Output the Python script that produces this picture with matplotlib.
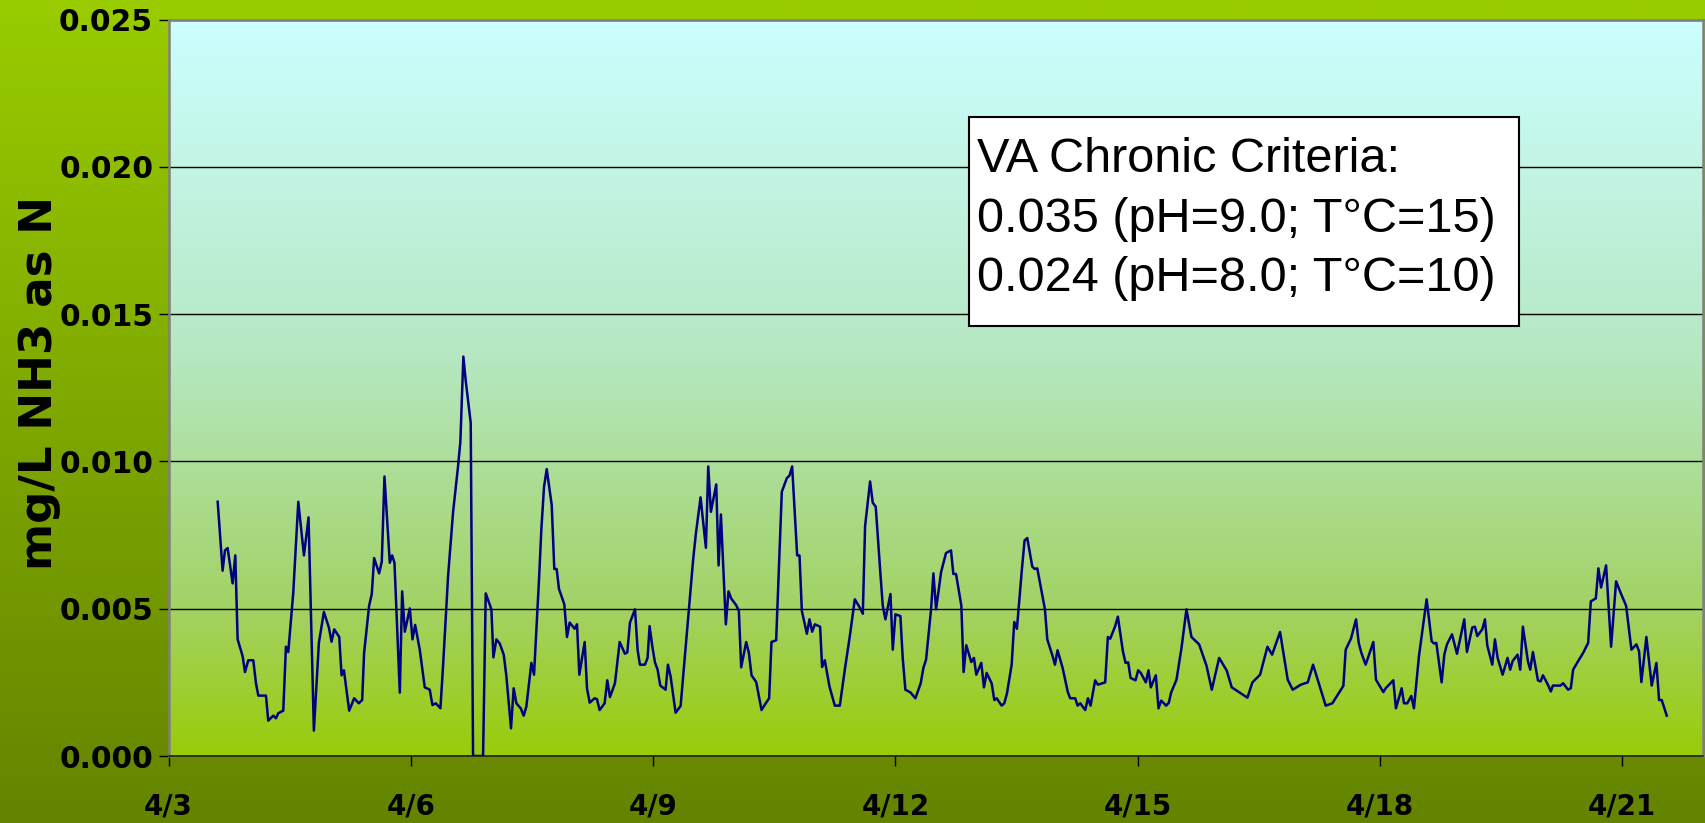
import numpy as np
import matplotlib
matplotlib.use("Agg")
import matplotlib.pyplot as plt
import matplotlib.dates as mdates
from matplotlib.patches import Rectangle
from matplotlib.ticker import FuncFormatter, FixedLocator
from matplotlib.font_manager import FontProperties
import datetime as dt

# ---------------- data ----------------
start_date = dt.datetime(2008, 4, 3)
# time of each sample, in days after 4/3 00:00
day_offset = [
    0.609, 0.670, 0.699, 0.732, 0.794, 0.827, 0.856, 0.918, 0.947, 0.988,
    1.050, 1.083, 1.112, 1.207, 1.235, 1.297, 1.330, 1.359, 1.421, 1.454,
    1.483, 1.545, 1.607, 1.677, 1.734, 1.800, 1.862, 1.924, 1.986, 2.019,
    2.052, 2.114, 2.143, 2.172, 2.237,
    2.299, 2.356, 2.398, 2.422, 2.484, 2.517, 2.546, 2.608, 2.641, 2.674,
    2.740, 2.769, 2.798, 2.864, 2.893, 2.926, 2.988, 3.021, 3.054, 3.111,
    3.173, 3.235, 3.268, 3.309, 3.367, 3.400, 3.462, 3.524, 3.585, 3.614,
    3.651, 3.680, 3.742, 3.771, 3.895, 3.928, 3.998, 4.023, 4.060,
    4.101, 4.151, 4.184, 4.241, 4.274, 4.307, 4.361, 4.398, 4.431, 4.493,
    4.526, 4.555, 4.588, 4.617, 4.650, 4.683, 4.745, 4.777, 4.806, 4.835,
    4.901, 4.934, 4.967, 5.029, 5.058, 5.087, 5.153, 5.182, 5.215, 5.276,
    5.305, 5.338, 5.400, 5.433, 5.466, 5.528, 5.586, 5.652, 5.681, 5.714,
    5.776, 5.809, 5.837, 5.899, 5.932,
    5.957, 5.990, 6.023, 6.056, 6.089, 6.155, 6.184, 6.217, 6.279, 6.341,
    6.369, 6.435, 6.497, 6.530, 6.588, 6.654, 6.683, 6.716, 6.782, 6.811,
    6.840, 6.901, 6.934, 6.967, 7.029, 7.062, 7.091, 7.153, 7.186, 7.219,
    7.277, 7.343, 7.376, 7.437, 7.466, 7.524, 7.594, 7.656, 7.689, 7.722,
    7.784,
    7.813, 7.842, 7.904, 7.937, 7.970, 8.003, 8.068, 8.093, 8.126, 8.184,
    8.250, 8.312, 8.374, 8.436, 8.498, 8.559, 8.597, 8.625, 8.687, 8.720,
    8.757, 8.815, 8.844, 8.877, 8.939, 8.968, 9.001, 9.062, 9.091, 9.124,
    9.186, 9.248, 9.314, 9.347, 9.380, 9.442, 9.471, 9.504, 9.566, 9.627,
    9.689, 9.718, 9.751, 9.817, 9.845, 9.878, 9.940, 9.973, 10.002, 10.064,
    10.097, 10.130, 10.192, 10.225, 10.254, 10.316, 10.349, 10.382, 10.440, 10.472,
    10.505, 10.567, 10.600, 10.633, 10.695, 10.724, 10.757, 10.852, 10.881, 10.947,
    10.976, 11.008, 11.071, 11.136, 11.165, 11.227, 11.256, 11.289, 11.351, 11.384,
    11.417, 11.474, 11.507,
    11.598, 11.631, 11.660, 11.722, 11.755, 11.817, 11.850, 11.883, 11.912, 11.974,
    12.006, 12.039, 12.101, 12.134, 12.163, 12.225, 12.258, 12.291, 12.353, 12.386,
    12.415, 12.481, 12.543, 12.604, 12.666, 12.761, 12.852, 12.918, 13.009, 13.103,
    13.165, 13.359,
    13.421, 13.516, 13.607, 13.665, 13.763, 13.858, 13.920, 14.019, 14.106, 14.172,
    14.328, 14.411, 14.547, 14.576, 14.642, 14.704, 14.737, 14.770, 14.823, 14.918,
    14.951, 15.042, 15.071, 15.165, 15.198,
    15.269, 15.298, 15.339, 15.388, 15.421, 15.483, 15.578, 15.640, 15.669, 15.698,
    15.764, 15.797, 15.830, 15.892, 15.954, 16.044, 16.077, 16.143, 16.176, 16.205,
    16.267, 16.300, 16.329, 16.391, 16.424, 16.457, 16.519, 16.580, 16.613, 16.642,
    16.704, 16.737, 16.770, 16.832, 16.861, 16.894, 16.956, 16.989, 17.018, 17.080,
    17.116, 17.141, 17.235, 17.268, 17.330, 17.363, 17.392, 17.454, 17.516, 17.578,
    17.611, 17.673, 17.705, 17.738, 17.800, 17.862, 17.924, 17.986, 18.048, 18.114,
    18.175, 18.208, 18.237, 18.299, 18.365, 18.423, 18.456, 18.489, 18.551,
]
# NH3 as N, in micrograms per litre (thousandths of mg/L)
nh3_ug_per_L = [
    8.63, 6.29, 6.98, 7.06, 5.86, 6.81, 3.96, 3.39, 2.85, 3.25,
    3.25, 2.47, 2.05, 2.05, 1.20, 1.37, 1.28, 1.45, 1.54, 3.71,
    3.53, 5.55, 8.63, 6.81, 8.10, 0.86, 3.84, 4.89, 4.36, 3.88,
    4.30, 4.04, 2.74, 2.91, 1.54,
    1.96, 1.79, 1.90, 3.50, 5.10, 5.50, 6.72, 6.20, 6.60, 9.49,
    6.56, 6.81, 6.56, 2.15, 5.59, 4.22, 5.01, 3.96, 4.45, 3.61,
    2.33, 2.25, 1.73, 1.79, 1.62, 3.08, 6.12, 8.29, 9.83, 10.68,
    13.56, 12.74, 11.31, 0.0, 0.0, 5.52, 4.98, 3.35, 3.96,
    3.82, 3.44, 2.70, 0.94, 2.30, 1.79, 1.62, 1.37, 1.68, 3.16,
    2.76, 4.30, 6.01, 7.72, 9.14, 9.74, 8.52, 6.35, 6.35, 5.67,
    5.15, 4.04, 4.53, 4.32, 4.47, 2.76, 3.87, 2.30, 1.81, 1.96,
    1.93, 1.56, 1.79, 2.57, 2.00, 2.47, 3.87, 3.47, 3.52, 4.53,
    4.98, 3.59, 3.10, 3.10, 3.33,
    4.41, 3.73, 3.18, 2.93, 2.39, 2.25, 3.10, 2.70, 1.47, 1.70,
    2.59, 4.70, 6.69, 7.55, 8.78, 7.07, 9.83, 8.29, 9.22, 6.47,
    8.20, 4.47, 5.59, 5.35, 5.12, 4.93, 3.01, 3.87, 3.50, 2.74,
    2.51, 1.56, 1.71, 1.96, 3.87, 3.93, 8.97, 9.43, 9.52, 9.83,
    6.81,
    6.81, 4.93, 4.15, 4.64, 4.22, 4.47, 4.39, 3.02, 3.25, 2.36,
    1.71, 1.71, 2.93, 4.07, 5.32, 5.04, 4.83, 7.80, 9.32, 8.60,
    8.46, 6.18, 5.10, 4.64, 5.50, 3.61, 4.81, 4.75, 3.33, 2.25,
    2.16, 1.96, 2.47, 2.99, 3.27, 4.98, 6.20, 4.98, 6.24, 6.89,
    6.98, 6.18, 6.18, 5.10, 2.85, 3.76, 3.19, 3.33, 2.76, 3.16,
    2.33, 2.82, 2.47, 1.90, 1.96, 1.71, 1.79, 2.13, 3.10, 4.55,
    4.32, 6.35, 7.32, 7.40, 6.43, 6.35, 6.37, 4.98, 3.96, 3.39,
    3.10, 3.59, 2.99, 2.16, 1.96, 1.96, 1.71, 1.79, 1.56, 1.96,
    1.71, 2.57, 2.42,
    2.50, 4.04, 3.98, 4.41, 4.73, 3.56, 3.16, 3.18, 2.65, 2.57,
    2.91, 2.82, 2.50, 2.91, 2.33, 2.74, 1.62, 1.88, 1.71, 1.81,
    2.16, 2.59, 3.67, 4.98, 4.04, 3.79, 3.07, 2.25, 3.33, 2.90,
    2.33, 1.98,
    2.50, 2.76, 3.71, 3.44, 4.21, 2.59, 2.25, 2.42, 2.50, 3.10,
    1.71, 1.79, 2.38, 3.61, 3.99, 4.64, 3.84, 3.50, 3.10, 3.87,
    2.59, 2.17, 2.30, 2.57, 1.62,
    2.30, 1.79, 1.79, 2.04, 1.62, 3.39, 5.32, 3.90, 3.82, 3.84,
    2.50, 3.44, 3.79, 4.13, 3.47, 4.64, 3.53, 4.36, 4.39, 4.07,
    4.30, 4.64, 3.75, 3.10, 3.96, 3.33, 2.76, 3.33, 2.93, 3.22,
    3.44, 2.93, 4.39, 3.22, 2.93, 3.53, 2.57, 2.53, 2.74, 2.42,
    2.19, 2.39, 2.39, 2.47, 2.25, 2.30, 2.93, 3.22, 3.50, 3.84,
    5.25, 5.35, 6.37, 5.72, 6.47, 3.71, 5.93, 5.50, 5.10, 3.61,
    3.79, 3.56, 2.51, 4.04, 2.39, 3.16, 1.90, 1.90, 1.37,
]
y_ticks = [0.000, 0.005, 0.010, 0.015, 0.020, 0.025]
x_tick_days = [0, 3, 6, 9, 12, 15, 18]
y_label = "mg/L NH3 as N"
box_lines = ["VA Chronic Criteria:",
             "0.035 (pH=9.0; T\u00b0C=15)",
             "0.024 (pH=8.0; T\u00b0C=10)"]

# ---------------- build series ----------------
times = [start_date + dt.timedelta(days=d) for d in day_offset]
values = np.array(nh3_ug_per_L) / 1000.0

# ---------------- figure ----------------
W, H, DPI = 1705, 823, 100
fig = plt.figure(figsize=(W / DPI, H / DPI), dpi=DPI)

def vgrad(stops, n=256):
    """stops: list of (t, (r,g,b)) with t=0 at top, 1 at bottom"""
    ts = np.array([s[0] for s in stops])
    cols = np.array([s[1] for s in stops], dtype=float) / 255.0
    t = np.linspace(0, 1, n)
    img = np.stack([np.interp(t, ts, cols[:, k]) for k in range(3)], axis=-1)
    return img[:, None, :]

# figure background gradient
bg = fig.add_axes([0, 0, 1, 1], zorder=-10)
bg.imshow(vgrad([(0, (153, 204, 0)), (1, (100, 132, 0))]), aspect='auto',
          extent=[0, 1, 0, 1], interpolation='bilinear')
bg.set_axis_off()

pos = [168.5 / W, 1 - 756 / H, (1703 - 168.5) / W, (756 - 19.6) / H]
pbg = fig.add_axes(pos, zorder=-5)
pbg.imshow(vgrad([(0, (204, 255, 255)), (0.45, (182, 232, 196)),
                  (0.8, (163, 210, 100)), (1, (153, 204, 10))]),
           aspect='auto', extent=[0, 1, 0, 1], interpolation='bilinear')
pbg.set_axis_off()

ax = fig.add_axes(pos)
ax.patch.set_alpha(0)
ax.plot(times, values, color='#000080', lw=1.8, zorder=3)

ax.set_ylim(0, 0.025)
ax.set_xlim(start_date, start_date + dt.timedelta(days=19))
ax.yaxis.set_major_locator(FixedLocator(y_ticks))
ax.yaxis.set_major_formatter(FuncFormatter(lambda v, p: f"{v:.3f}"))
xt = [mdates.date2num(start_date + dt.timedelta(days=d)) for d in x_tick_days]
ax.xaxis.set_major_locator(FixedLocator(xt))
ax.xaxis.set_major_formatter(FuncFormatter(
    lambda v, p: f"{mdates.num2date(v).month}/{mdates.num2date(v).day}"))

ax.set_axisbelow(True)
ax.grid(axis='y', color='black', lw=1.0)
for s in ['top', 'right', 'left']:
    ax.spines[s].set_color('#808080')
    ax.spines[s].set_linewidth(1.8)
ax.spines['bottom'].set_color('#222222')
ax.spines['bottom'].set_linewidth(1.2)

ytick_font = FontProperties(family='DejaVu Sans', weight='bold', size=21.5)
xtick_font = FontProperties(family='DejaVu Sans', weight='bold', size=20)
ax.tick_params(axis='y', length=7, width=1, color='black', pad=4)
ax.tick_params(axis='x', length=7, width=1, color='black', pad=19)
for lab in ax.get_yticklabels():
    lab.set_fontproperties(ytick_font)
for lab in ax.get_xticklabels():
    lab.set_fontproperties(xtick_font)

ax.set_ylabel(y_label, family='DejaVu Sans', weight='bold', fontsize=32.5)
ax.yaxis.set_label_coords(-0.0703, 0.506)

# criteria box
bx0, by0 = (969 - 168.5) / 1534.5, (756 - 326) / 736.4
bx1, by1 = (1519 - 168.5) / 1534.5, (756 - 117) / 736.4
ax.add_patch(Rectangle((bx0, by0), bx1 - bx0, by1 - by0, transform=ax.transAxes,
                       facecolor='white', edgecolor='black', lw=1.5, zorder=5))
baselines = [171.8, 231.6, 291.4]
for line, yb in zip(box_lines, baselines):
    ax.text((976.5 - 168.5) / 1534.5, (756 - yb) / 736.4, line,
            transform=ax.transAxes, family='Liberation Sans', fontsize=35,
            va='baseline', ha='left', color='black', zorder=6)

fig.savefig('out.png', dpi=DPI)
